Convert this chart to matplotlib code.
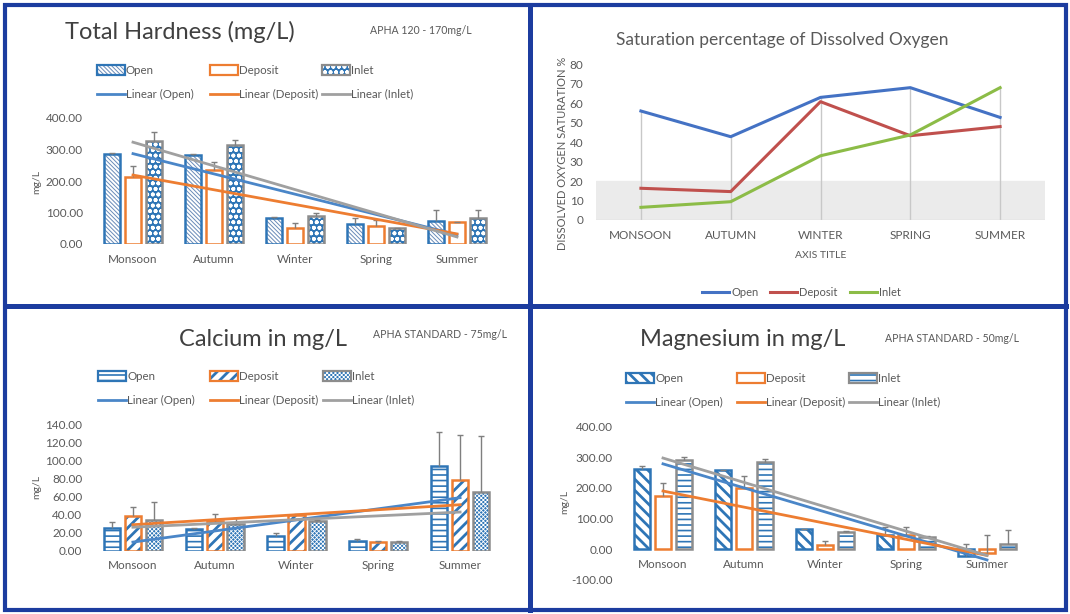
import numpy as np
import matplotlib
matplotlib.use('Agg')
import matplotlib.pyplot as plt
from matplotlib.patches import Rectangle
from matplotlib.ticker import FormatStrFormatter

plt.rcParams['font.family'] = ['Lato', 'DejaVu Sans']
plt.rcParams['axes.unicode_minus'] = False

# ---- data ----
seasons = ['Monsoon', 'Autumn', 'Winter', 'Spring', 'Summer']

# total hardness (mg/L)
th_open = [286, 283, 84, 64, 74]
th_open_err = [2, 2, 2, 18, 34]
th_dep = [214, 235, 51, 58, 69]
th_dep_err = [34, 24, 15, 18, 2]
th_inlet = [326, 315, 90, 51, 82]
th_inlet_err = [28, 14, 10, 1, 26]

# calcium (mg/L)
ca_open = [25.5, 24, 16.6, 11, 93.5]
ca_open_err = [6.5, 1, 3, 1.5, 38.5]
ca_dep = [38.8, 33, 39.5, 10, 78]
ca_dep_err = [10, 8, 1, 1, 50]
ca_inlet = [34, 30, 33, 10, 65]
ca_inlet_err = [20, 6, 0.5, 1, 62]

# magnesium (mg/L)
mg_open = [262, 259, 65, 46, -24]
mg_open_err = [11, 1, 2, 27, 41]
mg_dep = [174, 200, 15, 46, -12]
mg_dep_err = [41, 40, 13, 25, 58]
mg_inlet = [292, 286, 57, 40, 17]
mg_inlet_err = [10, 7, 3, 3, 47]

# dissolved oxygen saturation %
do_open = [56, 42.8, 63, 68, 52.7]
do_dep = [16.3, 14.6, 60.8, 43.3, 48]
do_inlet = [6.5, 9.4, 33, 43.7, 68]

W, H = 1070, 614
BLUE = '#2e75b6'
ORANGE = '#ed7d31'
GRAY = '#8c8c8c'
TXT = '#595959'
FRAME = '#1c3c9f'

fig = plt.figure(figsize=(W / 100, H / 100), dpi=100)
fig.patch.set_facecolor('white')

# overlay axes in pixel coords for frames, titles and legends
ov = fig.add_axes([0, 0, 1, 1])
ov.set_xlim(0, W)
ov.set_ylim(H, 0)
ov.axis('off')


def px_axes(x0, x1, ytop, ybot):
    ax = fig.add_axes([x0 / W, 1 - ybot / H, (x1 - x0) / W, (ybot - ytop) / H])
    ax.patch.set_alpha(0)
    return ax


def set_hlw(patch, lw):
    if hasattr(patch, 'set_hatch_linewidth'):
        patch.set_hatch_linewidth(lw)


def styled_bars(ax, x, vals, st):
    bars = ax.bar(x, vals, 0.2, color=st['face'], lw=0,
                  edgecolor=st.get('hcolor', 'none'), hatch=st.get('hatch'))
    for b in bars:
        set_hlw(b, st.get('hlw', 1.0))
    ax.bar(x, vals, 0.2, facecolor='none', edgecolor=st['edge'], lw=1.8)


def legend_box(x, y, st):
    r = Rectangle((x, y - 5), 28, 10, facecolor=st['face'], lw=0,
                  edgecolor=st.get('hcolor', 'none'), hatch=st.get('hatch'))
    set_hlw(r, st.get('hlw', 1.0))
    ov.add_patch(r)
    ov.add_patch(Rectangle((x, y - 5), 28, 10, facecolor='none', edgecolor=st['edge'], lw=1.6))


def bar_panel(ax, series, errs, styles, ylim, yticks):
    x = np.arange(len(seasons))
    offs = [-0.255, 0, 0.255]
    for vals, st, off in zip(series, styles, offs):
        styled_bars(ax, x + off, vals, st)
    for vals, err, off in zip(series, errs, offs):
        top = np.array(vals) + np.array(err)
        ax.vlines(x + off, vals, top, color='#7f7f7f', lw=1, zorder=3)
        ax.plot(x + off, top, ls='none', marker='_', ms=5, mew=1, color='#7f7f7f', zorder=3)
    for vals, c in zip(series, ['#4a86c8', ORANGE, '#a0a0a0']):
        coef = np.polyfit(x, vals, 1)
        ends = x[[0, -1]]
        ax.plot(ends, np.polyval(coef, ends), color=c, lw=2, zorder=4)
    ax.set_xlim(-0.5, 4.5)
    ax.set_ylim(*ylim)
    ax.set_yticks(yticks)
    ax.yaxis.set_major_formatter(FormatStrFormatter('%.2f'))
    ax.set_xticks(x)
    ax.set_xticklabels(seasons)
    ax.spines['bottom'].set_position(('data', 0))
    for s in ax.spines.values():
        s.set_visible(False)
    ax.tick_params(length=0, labelsize=8.5, colors=TXT)
    ax.tick_params(axis='x', pad=7)
    ax.tick_params(axis='y', pad=7)


def bar_legend(cols, y1, y2, styles):
    names = ['Open', 'Deposit', 'Inlet']
    lcols = ['#4a86c8', ORANGE, '#a0a0a0']
    for cx, nm, st, lc in zip(cols, names, styles, lcols):
        legend_box(cx, y1, st)
        ov.text(cx + 29, y1, nm, fontsize=8.3, color=TXT, va='center', ha='left')
        ov.plot([cx, cx + 28], [y2, y2], color=lc, lw=2)
        ov.text(cx + 29, y2, 'Linear (%s)' % nm, fontsize=8.3, color=TXT, va='center', ha='left')


# ---- frames ----
ov.add_patch(Rectangle((5, 5), 1061, 605, facecolor='none', edgecolor=FRAME, lw=3))
ov.plot([529.5, 529.5], [5, 610], color=FRAME, lw=3.6)
ov.plot([5, 1066], [305.5, 305.5], color=FRAME, lw=3.6)

# ---- total hardness ----
th_styles = [
    dict(face='white', hatch='\\' * 8, hcolor='#6a8bb8', hlw=0.7, edge=BLUE),
    dict(face='white', edge=ORANGE),
    dict(face=BLUE, hatch='ooo', hcolor='white', hlw=1.2, edge=GRAY),
]
ax1 = px_axes(92.5, 497.5, 118, 244)
bar_panel(ax1, [th_open, th_dep, th_inlet], [th_open_err, th_dep_err, th_inlet_err],
          th_styles, (0, 400), np.arange(0, 401, 100))
ov.text(180, 32, 'Total Hardness (mg/L)', fontsize=17, color='#404040', ha='center', va='center')
ov.text(370, 30, 'APHA 120 - 170mg/L', fontsize=7.6, color=TXT, ha='left', va='center')
ov.text(37, 182, 'mg/L', fontsize=7.5, color=TXT, rotation=90, ha='center', va='center')
bar_legend([97, 210, 322], 70, 94, th_styles)

# ---- dissolved oxygen ----
ax2 = px_axes(596, 1045, 64.3, 220)
xs = np.arange(len(seasons))
ax2.axhspan(0, 20, color='#ebebeb', zorder=0)
tops = np.max([do_open, do_dep, do_inlet], axis=0)
ax2.vlines(xs, 0, tops, color='#c8c8c8', lw=1, zorder=1)
ax2.plot(xs, do_open, color='#4472c4', lw=2.2, label='Open', zorder=3)
ax2.plot(xs, do_dep, color='#c0504d', lw=2.2, label='Deposit', zorder=3)
ax2.plot(xs, do_inlet, color='#8cbc47', lw=2.2, label='Inlet', zorder=3)
ax2.set_xlim(-0.5, 4.5)
ax2.set_ylim(0, 80)
ax2.set_yticks(np.arange(0, 81, 10))
ax2.set_xticks(xs)
ax2.set_xticklabels([s.upper() for s in seasons])
for s in ax2.spines.values():
    s.set_visible(False)
ax2.axhline(0, color='#d9d9d9', lw=1, zorder=2)
ax2.tick_params(length=0, labelsize=8.5, colors=TXT)
ax2.tick_params(axis='x', pad=7)
ax2.tick_params(axis='y', pad=9)
ov.text(782, 40, 'Saturation percentage of Dissolved Oxygen', fontsize=12.5, color=TXT,
        ha='center', va='center')
ov.text(562, 153, 'DISSOLVED OXYGEN SATURATION %', fontsize=8, color=TXT, rotation=90,
        ha='center', va='center')
ov.text(821, 256, 'AXIS TITLE', fontsize=7.5, color=TXT, ha='center', va='center')
for lx, nm, c in zip([702, 770, 850], ['Open', 'Deposit', 'Inlet'], ['#4472c4', '#c0504d', '#8cbc47']):
    ov.plot([lx, lx + 27], [292, 292], color=c, lw=2.2)
    ov.text(lx + 29, 292, nm, fontsize=8, color=TXT, ha='left', va='center')

# ---- calcium ----
ca_styles = [
    dict(face='white', hatch='---', hcolor=BLUE, hlw=1.2, edge=BLUE),
    dict(face='white', hatch='///', hcolor=BLUE, hlw=2.0, edge=ORANGE),
    dict(face=BLUE, hatch='x' * 8, hcolor='white', hlw=0.6, edge=GRAY),
]
ax3 = px_axes(92, 501, 424.3, 550.7)
bar_panel(ax3, [ca_open, ca_dep, ca_inlet], [ca_open_err, ca_dep_err, ca_inlet_err],
          ca_styles, (0, 140), np.arange(0, 141, 20))
ov.text(263, 340, 'Calcium in mg/L', fontsize=17, color='#404040', ha='center', va='center')
ov.text(373, 335, 'APHA STANDARD - 75mg/L', fontsize=7.6, color=TXT, ha='left', va='center')
ov.text(37, 487, 'mg/L', fontsize=7.5, color=TXT, rotation=90, ha='center', va='center')
bar_legend([98, 210, 323], 376, 400, ca_styles)

# ---- magnesium ----
mg_styles = [
    dict(face='white', hatch='\\' * 3, hcolor=BLUE, hlw=2.0, edge=BLUE),
    dict(face='white', edge=ORANGE),
    dict(face='white', hatch='---', hcolor=BLUE, hlw=1.2, edge=GRAY),
]
ax4 = px_axes(622.5, 1027.5, 426.7, 579.7)
bar_panel(ax4, [mg_open, mg_dep, mg_inlet], [mg_open_err, mg_dep_err, mg_inlet_err],
          mg_styles, (-100, 400), np.arange(-100, 401, 100))
ov.text(743, 340, 'Magnesium in mg/L', fontsize=17, color='#404040', ha='center', va='center')
ov.text(885, 338, 'APHA STANDARD - 50mg/L', fontsize=7.6, color=TXT, ha='left', va='center')
ov.text(565, 502, 'mg/L', fontsize=7.5, color=TXT, rotation=90, ha='center', va='center')
bar_legend([626, 737, 849], 378, 402, mg_styles)

fig.savefig('out.png', dpi=100, facecolor='white')
